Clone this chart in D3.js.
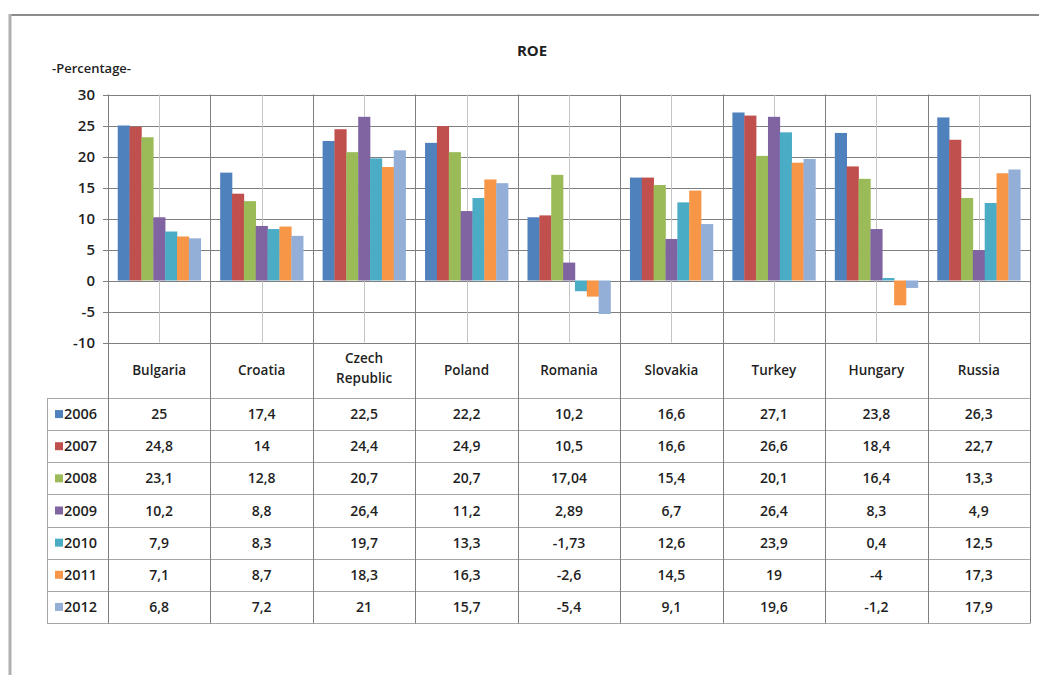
<!DOCTYPE html>
<html>
<head>
<meta charset="utf-8">
<script src="https://cdn.jsdelivr.net/npm/d3@7"></script>
<style>
body{margin:0;background:#fff;}
svg text{font-family:"Open Sans",sans-serif;fill:#1f1f1f;}
</style>
</head>
<body>
<svg id="chart" width="1039" height="675"></svg>
<script>
// data
var countries = ["Bulgaria","Croatia","Czech Republic","Poland","Romania","Slovakia","Turkey","Hungary","Russia"];
var years = ["2006","2007","2008","2009","2010","2011","2012"];
var colors = ["#4f81bd","#c0504d","#9bbb59","#8064a2","#4bacc6","#f79646","#93afd8"];
var v2006 = [25,17.4,22.5,22.2,10.2,16.6,27.1,23.8,26.3];
var v2007 = [24.8,14,24.4,24.9,10.5,16.6,26.6,18.4,22.7];
var v2008 = [23.1,12.8,20.7,20.7,17.04,15.4,20.1,16.4,13.3];
var v2009 = [10.2,8.8,26.4,11.2,2.89,6.7,26.4,8.3,4.9];
var v2010 = [7.9,8.3,19.7,13.3,-1.73,12.6,23.9,0.4,12.5];
var v2011 = [7.1,8.7,18.3,16.3,-2.6,14.5,19,-4,17.3];
var v2012 = [6.8,7.2,21,15.7,-5.4,9.1,19.6,-1.2,17.9];
var series = [v2006,v2007,v2008,v2009,v2010,v2011,v2012];
var yTicks = [30,25,20,15,10,5,0,-5,-10];

var svg = d3.select("#chart");

var x = d3.scaleBand().domain(countries).range([108,1030]);
var xs = d3.scaleBand().domain(years).range([0,x.bandwidth()]).paddingInner(0).paddingOuter(0.82);
var y = d3.scaleLinear().domain([-10,30]).range([342.5,94.5]);
var row = d3.scaleBand().domain(years).range([398,623]);

// frame of the picture
svg.append("line").attr("x1",9).attr("x2",1039).attr("y1",15).attr("y2",15)
	.attr("stroke","#8c8c8c").attr("stroke-width",2);
svg.append("line").attr("x1",10).attr("x2",10).attr("y1",14).attr("y2",675)
	.attr("stroke","#b0b0b0").attr("stroke-width",3);

// title
svg.append("text").attr("x",532).attr("y",56).attr("text-anchor","middle")
	.style("font-size","15px").style("font-weight","700").text("ROE");
svg.append("text").attr("x",52).attr("y",73)
	.style("font-size","13px").style("font-weight","600").text("-Percentage-");

// horizontal gridlines + y labels
svg.append("g").selectAll("line").data(yTicks).join("line")
	.attr("x1",103).attr("x2",1030)
	.attr("y1",function(d){return Math.round(y(d))+0.5;})
	.attr("y2",function(d){return Math.round(y(d))+0.5;})
	.attr("stroke","#7f7f7f").attr("stroke-width",1);
svg.append("g").selectAll("text").data(yTicks).join("text")
	.attr("x",95).attr("y",function(d){return y(d)+5;})
	.attr("text-anchor","end")
	.style("font-size","15px").style("font-weight","600")
	.text(function(d){return d;});

// light mid lines inside each category
svg.append("g").selectAll("line").data(countries).join("line")
	.attr("x1",function(d){return Math.round(x(d)+x.bandwidth()/2)+0.5;})
	.attr("x2",function(d){return Math.round(x(d)+x.bandwidth()/2)+0.5;})
	.attr("y1",y(30)).attr("y2",y(-10))
	.attr("stroke","#c4c4c4").attr("stroke-width",1);

// bars
var g = svg.append("g");
series.forEach(function(vals,si){
	g.append("g").selectAll("rect").data(vals).join("rect")
		.attr("x",function(d,i){return x(countries[i])+xs(years[si]);})
		.attr("width",xs.bandwidth()+0.3)
		.attr("y",function(d){return y(Math.max(0,d));})
		.attr("height",function(d){return Math.abs(y(d)-y(0));})
		.attr("fill",colors[si]);
});

// table row lines
svg.append("g").selectAll("line").data(years.concat(["end"])).join("line")
	.attr("x1",47).attr("x2",1030)
	.attr("y1",function(d){return d=="end" ? 623.5 : Math.round(row(d))+0.5;})
	.attr("y2",function(d){return d=="end" ? 623.5 : Math.round(row(d))+0.5;})
	.attr("stroke","#a6a6a6").attr("stroke-width",1);
svg.append("line").attr("x1",47.5).attr("x2",47.5).attr("y1",398).attr("y2",623.5)
	.attr("stroke","#a6a6a6");

// category boundary lines through plot and table
var edges = countries.map(function(d){return x(d);}).concat([1030]);
svg.append("g").selectAll("line").data(edges).join("line")
	.attr("x1",function(d){return Math.round(d)+0.5;})
	.attr("x2",function(d){return Math.round(d)+0.5;})
	.attr("y1",y(30)).attr("y2",623.5)
	.attr("stroke","#7f7f7f").attr("stroke-width",1);

// category header labels
var head = svg.append("g").selectAll("text").data(countries).join("text")
	.attr("text-anchor","middle")
	.style("font-size","13.5px").style("font-weight","600");
head.each(function(d){
	var t = d3.select(this);
	var words = d.split(" ");
	var cx = x(d)+x.bandwidth()/2;
	if(words.length==1){
		t.append("tspan").attr("x",cx).attr("y",375).text(d);
	}else{
		t.append("tspan").attr("x",cx).attr("y",363).text(words[0]);
		t.append("tspan").attr("x",cx).attr("y",383).text(words[1]);
	}
});

// legend keys + year labels
svg.append("g").selectAll("rect").data(years).join("rect")
	.attr("x",55).attr("y",function(d){return row(d)+row.bandwidth()/2-4;})
	.attr("width",8).attr("height",8)
	.attr("fill",function(d,i){return colors[i];});
svg.append("g").selectAll("text").data(years).join("text")
	.attr("x",64).attr("y",function(d){return row(d)+row.bandwidth()/2+5;})
	.style("font-size","14.5px").style("font-weight","600")
	.text(function(d){return d;});

// table values
series.forEach(function(vals,si){
	svg.append("g").selectAll("text").data(vals).join("text")
		.attr("x",function(d,i){return x(countries[i])+x.bandwidth()/2;})
		.attr("y",row(years[si])+row.bandwidth()/2+5)
		.attr("text-anchor","middle")
		.style("font-size","14px").style("font-weight","600")
		.text(function(d){return String(d).replace(".",",");});
});
</script>
</body>
</html>
